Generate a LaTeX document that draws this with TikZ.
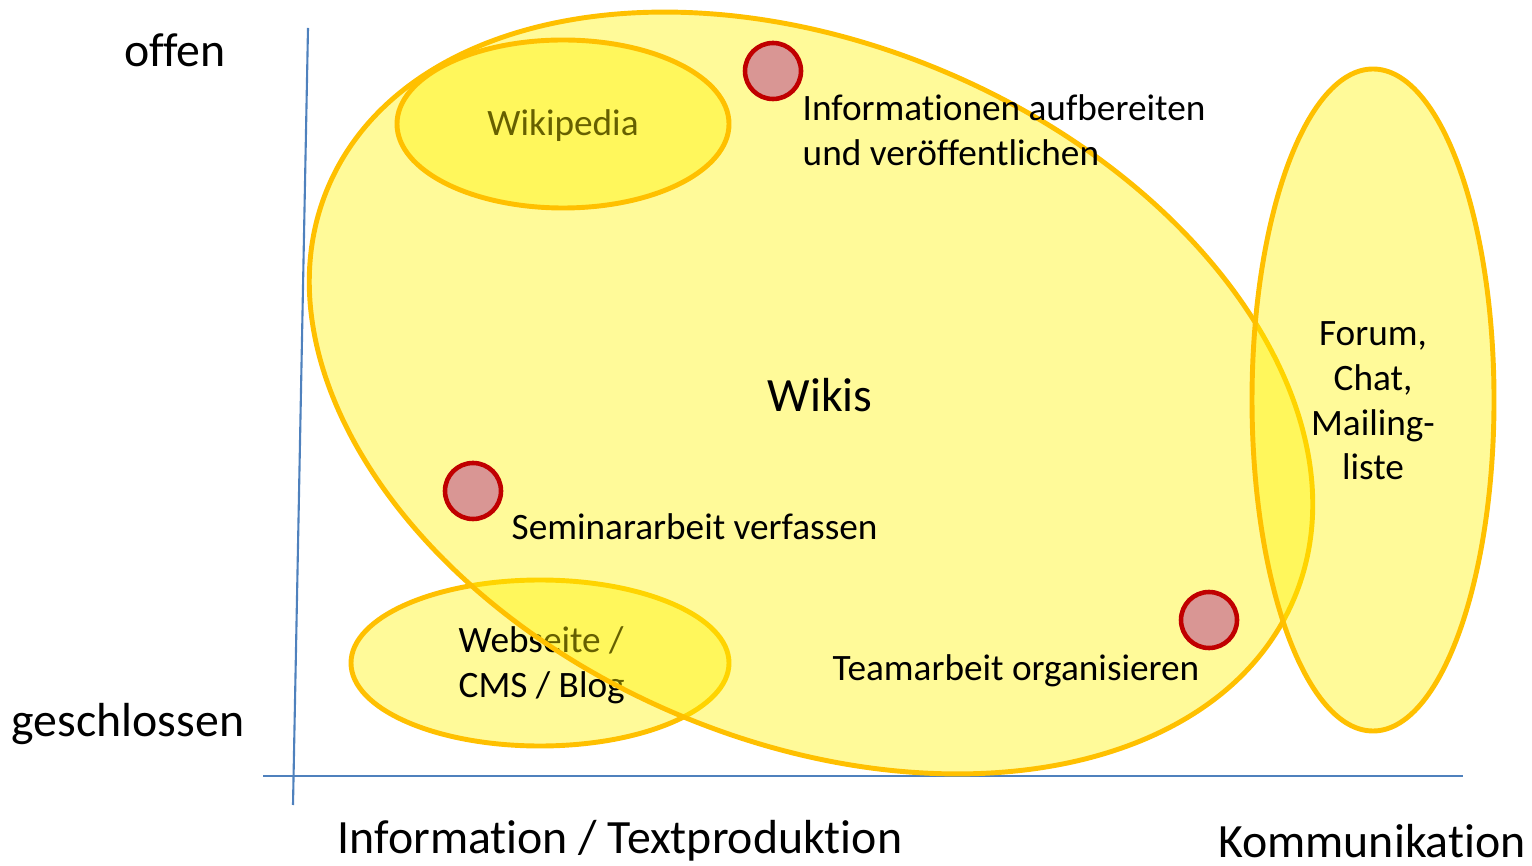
\documentclass[tikz,border=0pt]{standalone}
\usepackage{fontspec}
\setmainfont{Carlito}[Ligatures={NoCommon,NoDiscretionary,NoContextual}]
\usetikzlibrary{shapes.geometric}
\definecolor{rimgold}{HTML}{FFC000}
\definecolor{axisblue}{HTML}{4F81BD}
\definecolor{dotred}{HTML}{C00000}
\definecolor{dotpink}{HTML}{D99694}

\begin{document}
\begin{tikzpicture}[x=0.1mm,y=-0.1mm,
    blob/.style={line width=1.4pt,draw=rimgold,fill=yellow,fill opacity=0.4},
    dot/.style={circle,line width=1.3pt,draw=dotred,fill=dotpink,minimum size=5.6mm,inner sep=0pt},
    lbl/.style={font=\fontsize{10.6}{12.7}\selectfont,inner sep=0pt},
    axlbl/.style={font=\fontsize{13.6}{16}\selectfont,inner sep=0pt}]
      \useasboundingbox (0,0) rectangle (1532,866);

      % axes
      \coordinate (ytop) at (308,28);
      \coordinate (ybot) at (293,805);
      \coordinate (xleft) at (263,776);
      \coordinate (xright) at (1463,776);
      \draw[axisblue,line width=0.6pt] (ybot) -- (ytop);
      \draw[axisblue,line width=0.6pt] (xleft) -- (xright);

      \node[axlbl] (offen) at (175,50) {offen};
      \node[axlbl] (geschl) at (128,724) {geschlossen};
      \node[axlbl] (info) at (620,841) {Information / Textproduktion};
      \node[axlbl] (komm) at (1372,841) {Kommunikation};

      % Webseite below the big one
      \draw[blob] (540,663) ellipse (189 and 83);
      \node[lbl,anchor=west] (websiteText) at (458,666) {\begin{tabular}{@{}l@{}} Webseite /\\ CMS / Blog \end{tabular}};

      % Wikis
      \draw[blob,rotate around={-23.2:(811,393)}] (811,393) ellipse (525 and 348);
      \node[axlbl] (wikis) at (820,395) {Wikis};

      % Wikipedia
      \node[lbl] (wikipedia) at (563,126) {Wikipedia};
      \draw[blob] (563,124) ellipse (166 and 84);

      % Forum etc.
      \draw[blob] (1373,400) ellipse (121 and 331);
      \node[lbl] (forum) at (1373,404) {\begin{tabular}{@{}c@{}} Forum,\\ Chat,\\ Mailing-\\ liste \end{tabular}};

      % usage scenarios
      \node[dot] (dotInfo) at (773,71) {};
      \node[dot] (dotSem) at (473,491) {};
      \node[dot] (dotTeam) at (1209,620) {};

      \node[lbl,anchor=west] (infoText) at (802,134) {\begin{tabular}{@{}l@{}} Informationen aufbereiten\\ und veröffentlichen \end{tabular}};
      \node[lbl,anchor=west] (semText) at (511,527) {Seminararbeit verfassen};
      \node[lbl,anchor=west] (teamText) at (832,671) {Teamarbeit organisieren};
    \end{tikzpicture}
\end{document}
